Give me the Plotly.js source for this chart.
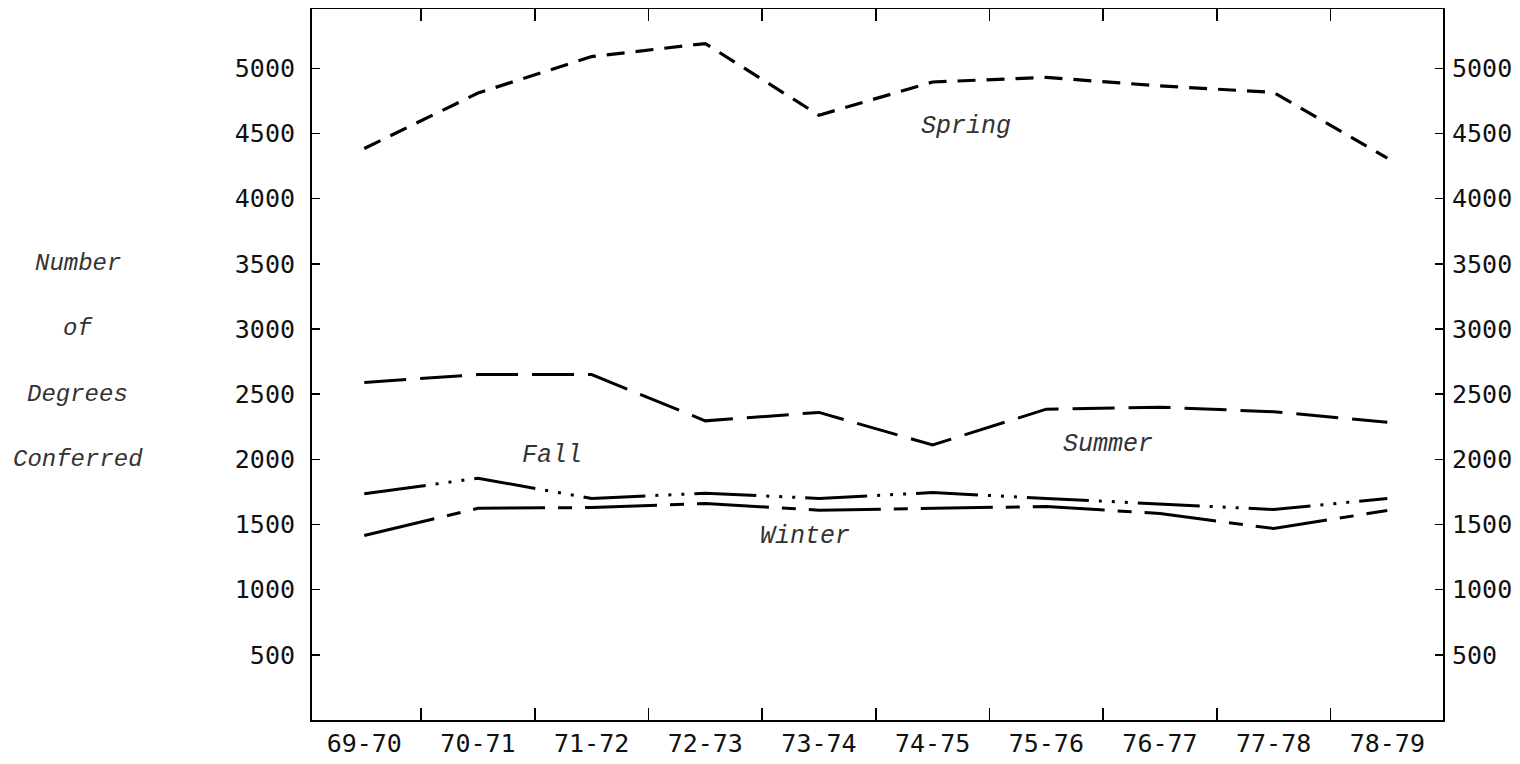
<!DOCTYPE html>
<html>
<head>
<meta charset="utf-8">
<script src="https://cdn.plot.ly/plotly-3.0.1.min.js"></script>
<style>html,body{margin:0;padding:0;background:#fff;}#chart{width:1520px;height:764px;}</style>
</head>
<body>
<div id="chart"></div>
<script>
const years = ["69-70","70-71","71-72","72-73","73-74","74-75","75-76","76-77","77-78","78-79"];
const spring = [4385, 4810, 5090, 5190, 4640, 4895, 4930, 4865, 4815, 4310];
const summer = [2590, 2650, 2650, 2295, 2360, 2110, 2385, 2400, 2365, 2285];
const fall   = [1735, 1855, 1700, 1740, 1700, 1745, 1700, 1655, 1615, 1700];
const winter = [1415, 1624, 1630, 1661, 1610, 1623, 1638, 1584, 1469, 1607];
const yTicks = [500,1000,1500,2000,2500,3000,3500,4000,4500,5000];
const yTitleLines = ["Number","of","Degrees","Conferred"];
const yTitleAt = [3500,3000,2500,2000];

const lineStyle = (dash, w) => ({color:'#000', width:w, dash:dash});
const traces = [
  {x:years, y:spring, name:'Spring', mode:'lines', xaxis:'x2', yaxis:'y2', line:lineStyle('18px,11px',3.2)},
  {x:years, y:summer, name:'Summer', mode:'lines', line:lineStyle('42px,14px',3)},
  {x:years, y:fall, name:'Fall', mode:'lines', line:lineStyle('62px,10px,3px,10px,3px,10px,3px,10px',3)},
  {x:years, y:winter, name:'Winter', mode:'lines', line:lineStyle('72px,13px,14px,13px',3)}
];

const italic = {family:'Liberation Mono, Courier New, monospace', size:25, style:'italic', color:'#333'};
const annotations = [
  {x:5.29, y:4553, text:'Spring'},
  {x:6.54, y:2115, text:'Summer'},
  {x:1.65, y:2030, text:'Fall'},
  {x:3.88, y:1408, text:'Winter'}
].map(a => Object.assign({xref:'x', yref:'y', showarrow:false, font:italic, xanchor:'center', yanchor:'middle'}, a));
yTitleLines.forEach((t,i) => annotations.push({
  xref:'paper', yref:'y', x:-0.207, y:yTitleAt[i], text:t, showarrow:false,
  xanchor:'center', yanchor:'middle', font:Object.assign({}, italic, {size:24})
}));

const tickFont = {family:'DejaVu Sans Mono, monospace', size:25, color:'#111'};
const yRange = [0, 5455];
const xRange = [-0.46, 9.49];
const layout = {
  width:1520, height:764,
  margin:{l:312, r:77, t:9, b:44},
  paper_bgcolor:'#fff', plot_bgcolor:'#fff',
  showlegend:false,
  xaxis:{type:'category', categoryorder:'array', categoryarray:years, range:xRange,
    tickson:'boundaries', ticks:'inside', ticklen:12, tickwidth:1.5, tickcolor:'#000',
    showline:true, linecolor:'#000', linewidth:1.5, mirror:true,
    showgrid:false, zeroline:false, tickfont:tickFont},
  xaxis2:{type:'category', categoryorder:'array', categoryarray:years, matches:'x', overlaying:'x', side:'top',
    range:xRange, tickson:'boundaries', ticks:'inside', ticklen:12, tickwidth:1.5, tickcolor:'#000',
    showticklabels:false, showline:false, showgrid:false, zeroline:false},
  yaxis:{range:yRange, tickvals:yTicks, ticks:'inside', ticklen:8, tickwidth:1.5, tickcolor:'#000',
    showline:true, linecolor:'#000', linewidth:2, showgrid:false, zeroline:false,
    tickfont:tickFont, ticklabelstandoff:10},
  yaxis2:{overlaying:'y', side:'right', matches:'y', range:yRange, tickvals:yTicks, ticks:'inside', ticklen:8,
    tickwidth:1.5, tickcolor:'#000', showline:true, linecolor:'#000', linewidth:2,
    showgrid:false, zeroline:false, tickfont:tickFont, ticklabelstandoff:2},
  annotations:annotations
};
Plotly.newPlot('chart', traces, layout, {staticPlot:true, displayModeBar:false});
</script>
</body>
</html>
